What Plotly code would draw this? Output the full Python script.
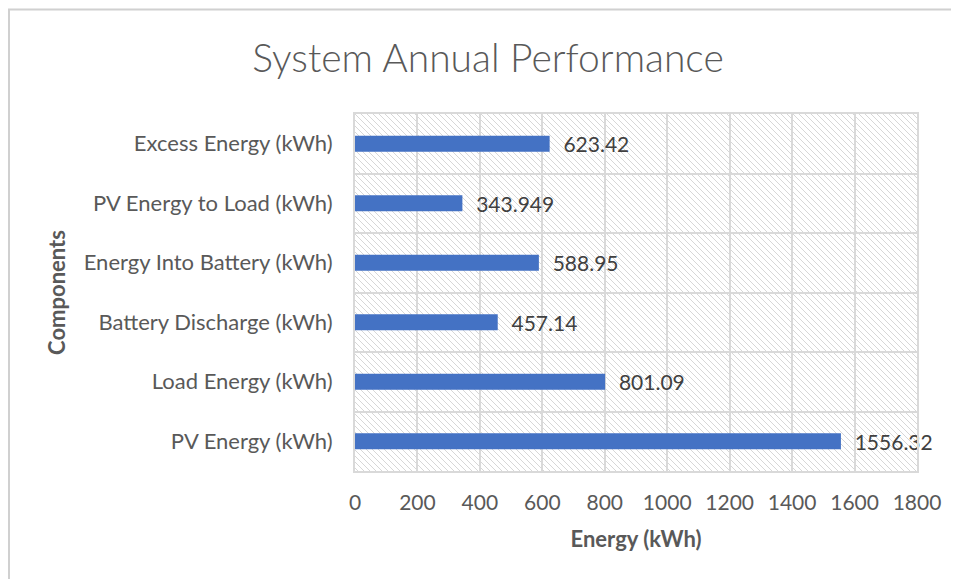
import base64
import plotly.graph_objects as go

categories = ["PV Energy (kWh)", "Load Energy (kWh)", "Battery Discharge (kWh)",
              "Energy Into Battery (kWh)", "PV Energy to Load (kWh)", "Excess Energy (kWh)"]
values = [1556.32, 801.09, 457.14, 588.95, 343.949, 623.42]
value_labels = ["1556.32", "801.09", "457.14", "588.95", "343.949", "623.42"]
x_ticks = [0, 200, 400, 600, 800, 1000, 1200, 1400, 1600, 1800]

# page has an 8px body margin, so figure coords = page coords - 8
OFF = 8
W, H = 959 - OFF, 579 - OFF
L, R, T, B = 355 - OFF, 917 - OFF, 114 - OFF, 471 - OFF
pw, ph = R - L, B - T

# hatch pattern background (diagonal "\" lines)
svg = (f'<svg xmlns="http://www.w3.org/2000/svg" width="{pw}" height="{ph}" viewBox="0 0 {pw} {ph}">'
       '<defs><pattern id="h" width="6" height="6" patternUnits="userSpaceOnUse">'
       '<path d="M-1,-1 L7,7 M-1,5 L1,7 M5,-1 L7,1" stroke="#d2d2d2" stroke-width="0.9"/></pattern></defs>'
       f'<rect width="{pw}" height="{ph}" fill="white"/><rect width="{pw}" height="{ph}" fill="url(#h)"/></svg>')
src = "data:image/svg+xml;base64," + base64.b64encode(svg.encode()).decode()

font = "Lato"
fig = go.Figure()
fig.add_trace(go.Bar(
    x=values, y=categories, orientation="h",
    marker=dict(color="#4472C4", line=dict(width=0)),
    width=0.27,
    text=value_labels, texttemplate="\u00a0\u00a0%{text}",
    textposition="outside", cliponaxis=False, constraintext="none",
    textfont=dict(family=font, size=21, color="#404040"),
))

def px_x(p):  # page x -> paper coord
    return (p - OFF - L) / pw

def px_y(p):  # page y -> paper coord
    return 1 - (p - OFF - T) / ph

fig.update_layout(
    width=W, height=H,
    margin=dict(l=L, r=W - R, t=T, b=H - B),
    paper_bgcolor="white", plot_bgcolor="rgba(0,0,0,0)",
    showlegend=False,
    title=dict(text="System Annual Performance", x=(488 - OFF) / W, xanchor="center",
               y=1 - (58 - OFF) / H, yanchor="middle",
               font=dict(family=font, size=39, color="#595959", weight=300)),
    images=[dict(source=src, xref="x domain", yref="y domain", x=0, y=1,
                 sizex=1, sizey=1, xanchor="left", yanchor="top",
                 sizing="stretch", layer="below")],
    shapes=[
        dict(type="line", xref="paper", yref="paper", x0=px_x(8), x1=px_x(980),
             y0=px_y(9.5), y1=px_y(9.5), line=dict(color="#d0d0d0", width=2)),
        dict(type="line", xref="paper", yref="paper", x0=px_x(9), x1=px_x(9),
             y0=px_y(9.5), y1=px_y(600), line=dict(color="#d0d0d0", width=2)),
    ],
)

fig.update_xaxes(
    range=[0, 1800], tickvals=x_ticks, ticktext=[str(v) for v in x_ticks],
    showgrid=True, gridcolor="#d9d9d9", gridwidth=2,
    showline=True, linecolor="#d9d9d9", linewidth=2, mirror=True,
    zeroline=False, ticks="", ticklen=0, ticklabelstandoff=12,
    tickfont=dict(family=font, size=21, color="#595959"),
    title=dict(text="<b>Energy (kWh)</b>", standoff=18,
               font=dict(family=font, size=22, color="#595959")),
)
fig.update_yaxes(
    categoryorder="array", categoryarray=categories,
    tickson="boundaries", showgrid=True, gridcolor="#d9d9d9", gridwidth=2,
    showline=True, linecolor="#d9d9d9", linewidth=2, mirror=True,
    ticks="", ticklen=0, ticklabelstandoff=16,
    tickfont=dict(family=font, size=22, color="#595959"),
    title=dict(text="<b>Components</b>", standoff=12,
               font=dict(family=font, size=22, color="#595959")),
)

fig.write_html("out.html")
